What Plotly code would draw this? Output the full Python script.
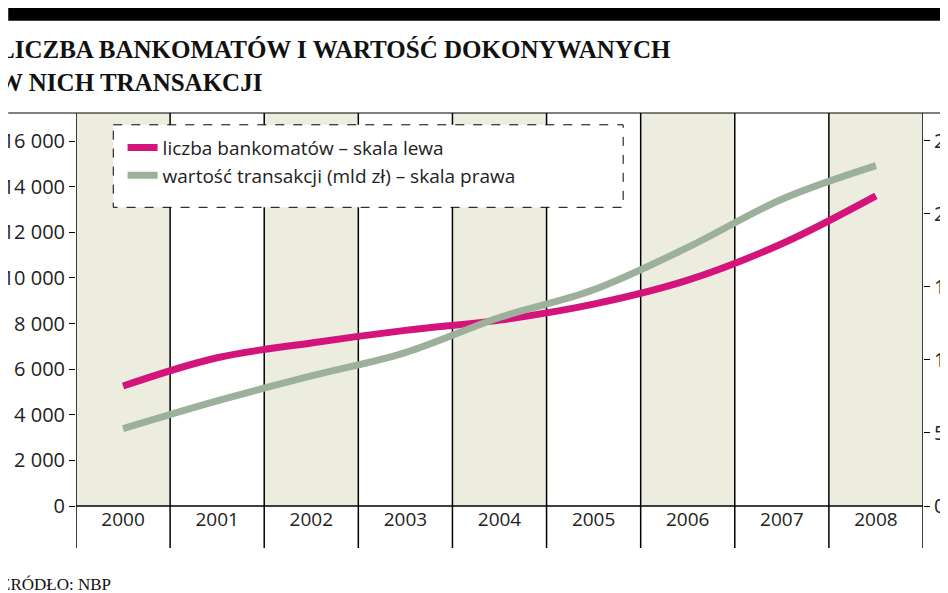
import plotly.graph_objects as go

years = ["2000", "2001", "2002", "2003", "2004", "2005", "2006", "2007", "2008"]
atms = [5260, 6500, 7150, 7700, 8150, 8850, 9900, 11500, 13600]
value_bn = [53, 72, 89, 105, 129, 148, 177, 210, 233]
left_ticks = [0, 2000, 4000, 6000, 8000, 10000, 12000, 14000, 16000]
left_labels = ["0", "2 000", "4 000", "6 000", "8 000", "10 000", "12 000", "14 000", "16 000"]
right_ticks = [0, 50, 100, 150, 200, 250]

PINK = "#d4137b"
GREEN = "#9cb09b"
SHADE = "#ededdf"

fig = go.Figure()
fig.add_trace(go.Scatter(x=years, y=atms, mode="lines", name="liczba bankomatów – skala lewa",
                         line=dict(color=PINK, width=7, shape="spline")))
fig.add_trace(go.Scatter(x=years, y=value_bn, mode="lines", yaxis="y2",
                         name="wartość transakcji (mld zł) – skala prawa",
                         line=dict(color=GREEN, width=7, shape="spline")))

shapes = []
for i in range(len(years)):
    if i % 2 == 0:
        shapes.append(dict(type="rect", xref="x", yref="paper", x0=i - 0.5, x1=i + 0.5, y0=0, y1=1,
                           fillcolor=SHADE, line_width=0, layer="below"))
for i in range(len(years) + 1):
    shapes.append(dict(type="line", xref="x", yref="paper", x0=i - 0.5, x1=i - 0.5, y0=-0.107, y1=1,
                       line=dict(color="black", width=1.5), layer="below"))
shapes += [
    dict(type="line", xref="paper", yref="paper", x0=-0.08, x1=1.04, y0=1, y1=1, line=dict(color="black", width=1)),
    dict(type="line", xref="paper", yref="paper", x0=0, x1=1, y0=0, y1=0, line=dict(color="black", width=1.5)),
    dict(type="rect", xref="paper", yref="paper", x0=-0.08, x1=1.04, y0=1.27, y1=1.235,
         fillcolor="black", line_width=0),
    dict(type="rect", xref="paper", yref="paper", x0=0.044, x1=0.646, y0=0.97, y1=0.76,
         line=dict(color="black", width=1, dash="dash"), fillcolor="white"),
]

fig.update_layout(
    width=948, height=593,
    margin=dict(l=68, r=33, t=105, b=95),
    paper_bgcolor="white", plot_bgcolor="white",
    font=dict(family="Open Sans", size=19, color="#222"),
    showlegend=True,
    legend=dict(x=0.055, y=0.96, xanchor="left", yanchor="top", bgcolor="rgba(0,0,0,0)",
                font=dict(size=19), tracegroupgap=0),
    shapes=shapes,
    xaxis=dict(type="category", range=[-0.5, 8.5], showgrid=False, ticks="", tickfont=dict(size=19),
               showline=False, zeroline=False, automargin=False),
    yaxis=dict(range=[0, 17230], tickvals=left_ticks, ticktext=left_labels, showgrid=False,
               ticks="outside", ticklen=6, tickcolor="black", showline=False, zeroline=False,
               tickfont=dict(size=20), automargin=False),
    yaxis2=dict(range=[0, 269], overlaying="y", side="right", tickvals=right_ticks, showgrid=False,
                ticks="outside", ticklen=6, tickcolor="black", showline=False, zeroline=False,
                tickfont=dict(size=20), automargin=False),
    annotations=[
        dict(text="<b>LICZBA BANKOMATÓW I WARTOŚĆ DOKONYWANYCH<br>W NICH TRANSAKCJI</b>",
             xref="paper", yref="paper", x=-0.095, y=1.2, xanchor="left", yanchor="top",
             align="left", showarrow=False, font=dict(family="Liberation Serif", size=25, color="#111")),
        dict(text="ŹRÓDŁO: NBP", xref="paper", yref="paper", x=-0.092, y=-0.2,
             xanchor="left", yanchor="middle", showarrow=False,
             font=dict(family="Liberation Serif", size=17, color="#111")),
    ],
)

fig.write_html("out.html")
